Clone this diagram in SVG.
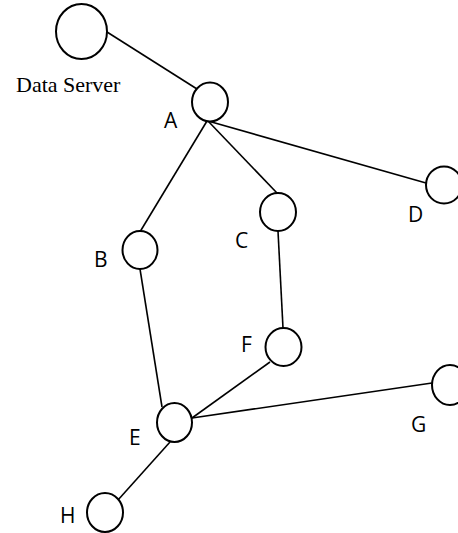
<svg xmlns="http://www.w3.org/2000/svg" width="458" height="533" viewBox="0 0 458 533">
<style>
.n{fill:#fff;stroke:#000;stroke-width:2}
.e line{stroke:#000;stroke-width:1.6}
.l{font-family:"Open Sans","Liberation Sans",sans-serif;font-size:21px;fill:#000}
.s{font-family:"Liberation Serif",serif;font-size:22px;fill:#000}
</style>
<rect width="458" height="533" fill="#fff"/>
<g class="e" id="connectors">
<line x1="107" y1="32" x2="197" y2="89"/>
<line x1="207" y1="121" x2="140.5" y2="231"/>
<line x1="208" y1="121" x2="277" y2="193"/>
<line x1="208" y1="121" x2="426" y2="183"/>
<line x1="140" y1="269" x2="162" y2="407"/>
<line x1="278" y1="231" x2="283" y2="328"/>
<line x1="270" y1="362" x2="192" y2="418"/>
<line x1="192" y1="418" x2="432" y2="383"/>
<line x1="170" y1="442" x2="118" y2="500"/>
</g>
<g id="dataserver"><ellipse class="n" cx="81.5" cy="31.5" rx="25.5" ry="27.5"/><text class="s" x="16" y="92">Data Server</text></g>
<g id="A"><ellipse class="n" cx="210" cy="102" rx="18" ry="19.5"/><text class="l" x="164" y="128">A</text></g>
<g id="B"><ellipse class="n" cx="140" cy="250" rx="17.5" ry="19"/><text class="l" x="94" y="267">B</text></g>
<g id="C"><ellipse class="n" cx="278" cy="212" rx="18" ry="19"/><text class="l" x="235" y="248">C</text></g>
<g id="D"><ellipse class="n" cx="444" cy="185" rx="18" ry="18.5"/><text class="l" x="408" y="222">D</text></g>
<g id="E"><ellipse class="n" cx="174.5" cy="422.5" rx="17.5" ry="19.5"/><text class="l" x="129" y="445">E</text></g>
<g id="F"><ellipse class="n" cx="283.5" cy="347" rx="18" ry="19"/><text class="l" x="241" y="352">F</text></g>
<g id="G"><ellipse class="n" cx="450" cy="385" rx="18" ry="20"/><text class="l" x="411" y="432">G</text></g>
<g id="H"><ellipse class="n" cx="105" cy="512.5" rx="18" ry="19.5"/><text class="l" x="60" y="523">H</text></g>
</svg>
